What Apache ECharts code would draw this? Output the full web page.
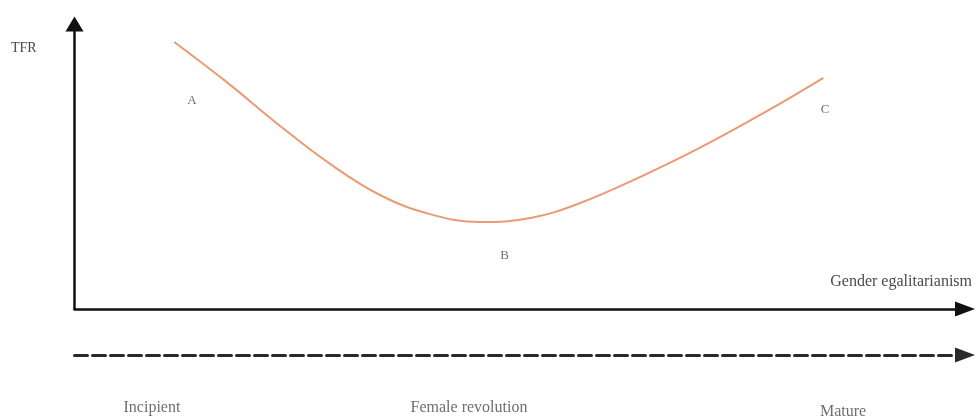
<!DOCTYPE html>
<html>
<head>
<meta charset="utf-8">
<script src="https://cdn.jsdelivr.net/npm/echarts@6/dist/echarts.min.js"></script>
<style>html,body{margin:0;padding:0;background:#fff}#c{width:977px;height:419px}</style>
</head>
<body>
<div id="c"></div>
<script>
// Curve: gender egalitarianism (x) vs TFR (y), arbitrary units 0-100
const curveX = [11.2, 17.1, 23.1, 28.7, 34.3, 39.9, 45.5, 51.2, 56.8, 63.5, 70.2, 77.8, 84.1];
const curveY = [93.7, 79.6, 64.2, 50.9, 40.0, 33.3, 30.5, 31.9, 37.2, 46.3, 56.5, 69.5, 81.1];
// Point labels on the curve
const pointNames = ['A', 'B', 'C'];
const pointX = [13.2, 48.3, 84.3];
const pointY = [73.3, 18.9, 69.8];
// Stages along the lower (dashed) axis
const stageNames = ['Incipient', 'Female revolution', 'Mature'];
const stageX = [8.7, 44.3, 86.3];
const yAxisName = 'TFR';
const xAxisName = 'Gender egalitarianism';

const FONT = 'Liberation Serif';
const TXT = '#4a4a4a';
const stageOffsets = [53, 53, 57];

const chart = echarts.init(document.getElementById('c'), null, {renderer: 'canvas'});
chart.setOption({
  animation: false,
  backgroundColor: '#fff',
  grid: [
    {left: 74.5, right: 12, top: 24, height: 285},
    {left: 74.5, right: 12, top: 355, height: 63}
  ],
  xAxis: [
    {
      type: 'value', gridIndex: 0, min: 0, max: 100,
      splitLine: {show: false}, axisTick: {show: false}, axisLabel: {show: false},
      axisLine: {show: true, onZero: false, symbol: ['none', 'triangle'], symbolSize: [15, 20],
        lineStyle: {color: '#111', width: 2.5}}
    },
    {
      type: 'value', gridIndex: 1, min: 0, max: 100, position: 'top',
      splitLine: {show: false}, axisTick: {show: false}, axisLabel: {show: false},
      axisLine: {show: true, onZero: false, symbol: ['none', 'triangle'], symbolSize: [15, 20],
        lineStyle: {color: '#2a2a2a', width: 3, type: [13, 5]}}
    }
  ],
  yAxis: [
    {
      type: 'value', gridIndex: 0, min: 0, max: 100,
      splitLine: {show: false}, axisTick: {show: false}, axisLabel: {show: false},
      axisLine: {show: true, onZero: false, symbol: ['none', 'triangle'], symbolSize: [18, 15],
        lineStyle: {color: '#111', width: 2.5}}
    },
    {
      type: 'value', gridIndex: 1, min: 0, max: 63, inverse: true, show: false
    }
  ],
  series: [
    {
      type: 'line', xAxisIndex: 0, yAxisIndex: 0, smooth: 0.4, showSymbol: false,
      lineStyle: {color: '#eb9a74', width: 2},
      data: curveX.map((x, i) => [x, curveY[i]])
    },
    {
      type: 'scatter', xAxisIndex: 0, yAxisIndex: 0, symbolSize: 0,
      label: {show: true, position: 'inside', formatter: p => p.data[2], fontFamily: FONT, fontSize: 13, color: TXT},
      data: pointNames.map((n, i) => [pointX[i], pointY[i], n])
    },
    {
      type: 'scatter', xAxisIndex: 1, yAxisIndex: 1, symbolSize: 0,
      label: {show: true, position: 'inside', formatter: p => p.data[2], fontFamily: FONT, fontSize: 16, color: TXT},
      data: stageNames.map((n, i) => [stageX[i], stageOffsets[i], n])
    }
  ],
  graphic: [
    {type: 'text', left: 11, top: 41, style: {text: yAxisName, font: '14px "' + FONT + '"', fill: TXT}},
    {type: 'text', right: 5, top: 274, style: {text: xAxisName, font: '16px "' + FONT + '"', fill: TXT}}
  ]
});
</script>
</body>
</html>
